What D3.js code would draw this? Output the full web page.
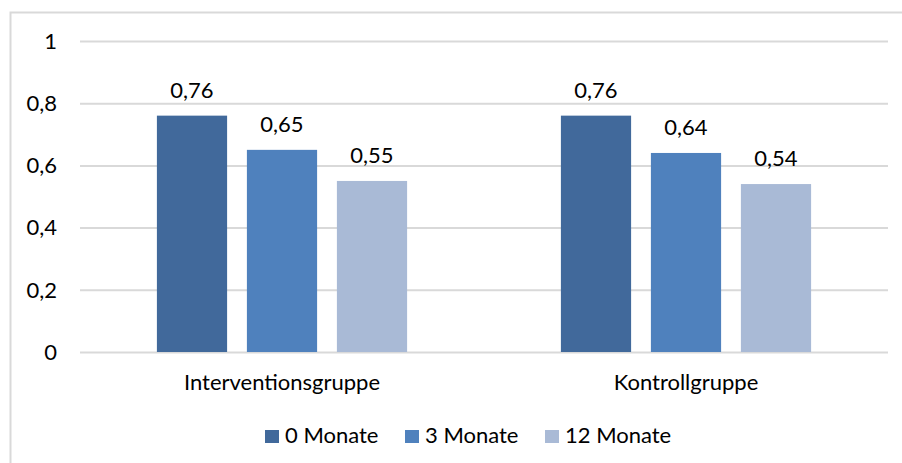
<!DOCTYPE html>
<html><head>
<meta charset="utf-8">
<script src="https://d3js.org/d3.v7.min.js"></script>
<style>
  body { margin: 0; background: #fff; }
  text { font-family: Lato, "Open Sans", sans-serif; fill: #000; }
  .gridlines line { stroke: #d9d9d9; stroke-width: 2px; }
  .gridlines .domain { stroke: none; }
</style>
</head>
<body>
<svg id="chart" width="902" height="463"></svg>
<script>
  // data
  const groups = ["Interventionsgruppe", "Kontrollgruppe"];
  const series = ["0 Monate", "3 Monate", "12 Monate"];
  const values0 = [0.76, 0.76];
  const values3 = [0.65, 0.64];
  const values12 = [0.55, 0.54];
  const yTicks = [0, 0.2, 0.4, 0.6, 0.8, 1];
  const colors = ["#41699b", "#4f81bd", "#a9bad6"];

  const fontSize = 22;
  const svg = d3.select("svg#chart");
  const margins = {top: 41, right: 14, bottom: 111, left: 80};
  const chartWidth = 902 - margins.left - margins.right;
  const chartHeight = 463 - margins.top - margins.bottom;

  // outer frame (only left and top visible in the picture)
  svg.append("path")
    .attr("d", "M10.5,463 V12.5 H902")
    .attr("fill", "none")
    .attr("stroke", "#d9d9d9")
    .attr("stroke-width", 2);

  const chart = svg.append("g")
    .attr("transform", "translate(" + margins.left + "," + margins.top + ")");

  const x0 = d3.scaleBand().domain(groups).range([0, chartWidth]);
  const x1 = d3.scaleBand().domain(series).range([0, 270]).paddingInner(0.22).paddingOuter(0.11);
  const y = d3.scaleLinear().domain([0, 1]).range([chartHeight, 0]);

  // gridlines
  chart.append("g").attr("class", "gridlines")
    .call(d3.axisLeft(y).tickValues(yTicks).tickSize(-chartWidth).tickFormat(""));

  // tick labels
  const fmt = d => String(d).replace(".", ",");
  chart.selectAll("text.ytick").data(yTicks).join("text")
    .attr("class", "ytick")
    .attr("x", -23)
    .attr("y", d => y(d))
    .attr("dy", "0.35em")
    .attr("text-anchor", "end")
    .attr("font-size", fontSize)
    .text(fmt);

  const rows = [];
  groups.forEach((g, i) => {
    [values0[i], values3[i], values12[i]].forEach((v, j) => {
      rows.push({group: g, series: series[j], value: v, color: colors[j]});
    });
  });

  const offset = (x0.bandwidth() - 270) / 2;

  chart.selectAll("rect.bar").data(rows).join("rect")
    .attr("class", "bar")
    .attr("x", d => x0(d.group) + offset + x1(d.series))
    .attr("y", d => y(d.value))
    .attr("width", x1.bandwidth())
    .attr("height", d => chartHeight - y(d.value))
    .attr("fill", d => d.color);

  chart.selectAll("text.val").data(rows).join("text")
    .attr("class", "val")
    .attr("x", d => x0(d.group) + offset + x1(d.series) + x1.bandwidth() / 2)
    .attr("y", d => y(d.value) - 18)
    .attr("text-anchor", "middle")
    .attr("font-size", fontSize)
    .text(d => fmt(d.value));

  // category labels
  chart.selectAll("text.cat").data(groups).join("text")
    .attr("class", "cat")
    .attr("x", d => x0(d) + x0.bandwidth() / 2)
    .attr("y", chartHeight + 38)
    .attr("text-anchor", "middle")
    .attr("font-size", fontSize)
    .text(d => d);

  // legend
  const legendX = [265, 405, 545];
  const legend = svg.append("g");
  series.forEach((s, i) => {
    legend.append("rect")
      .attr("x", legendX[i]).attr("y", 430)
      .attr("width", 14).attr("height", 13)
      .attr("fill", colors[i]);
    legend.append("text")
      .attr("x", legendX[i] + 20).attr("y", 443)
      .attr("font-size", fontSize)
      .text(s);
  });
</script>
</body>
</html>
